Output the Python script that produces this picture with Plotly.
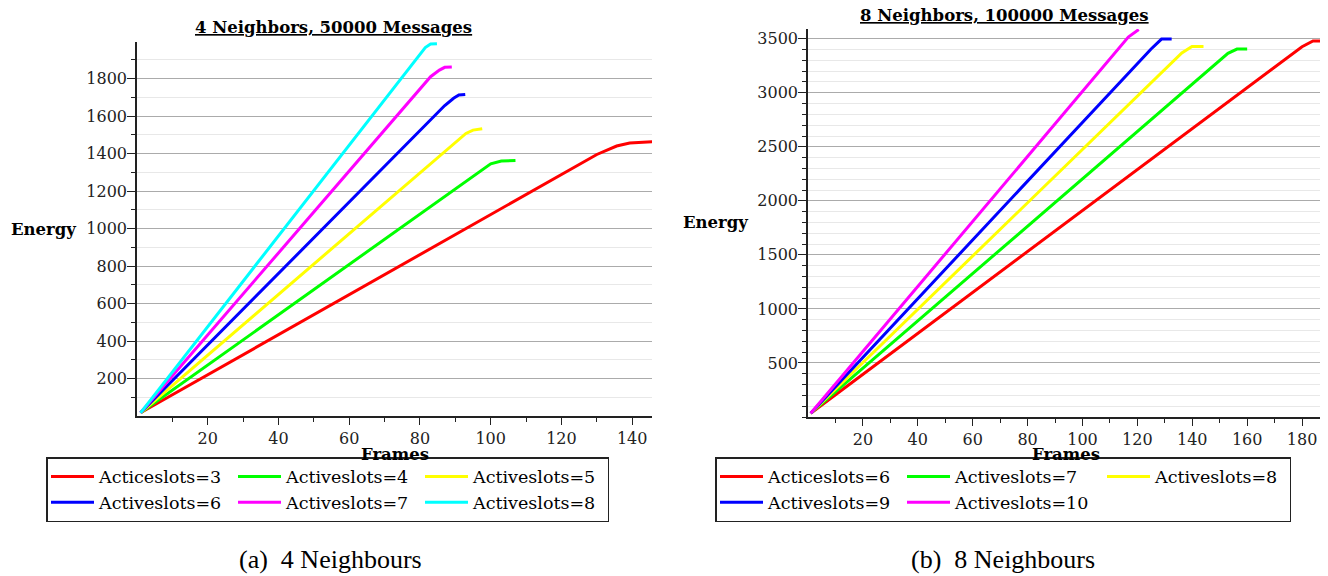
import plotly.graph_objects as go

# The page body has an 8px margin, so the figure is drawn 8px in from the
# top-left corner of the 1328x576 window.
OFF = 8
W, H = 1328 - OFF, 576 - OFF

# ---------------- Data: 4 neighbours, 50000 messages ----------------
n4_names = ["Acticeslots=3", "Activeslots=4", "Activeslots=5",
            "Activeslots=6", "Activeslots=7", "Activeslots=8"]
n4_colors = ["#ff0000", "#00ff00", "#ffff00", "#0000ff", "#ff00ff", "#00ffff"]
n4_groups = ["c1", "c2", "c3", "c1", "c2", "c3"]

n4_s3_x = [1, 130, 135.6, 139.3, 146]
n4_s3_y = [17, 1395, 1440, 1456, 1464]
n4_s4_x = [1, 97, 100, 103, 107]
n4_s4_y = [17, 1309, 1345, 1360, 1363]
n4_s5_x = [1, 90, 93, 95, 97.6]
n4_s5_y = [17, 1462, 1507, 1525, 1532]
n4_s6_x = [1, 87, 89.5, 91, 92.8]
n4_s6_y = [17, 1656, 1695, 1712, 1715]
n4_s7_x = [1, 83, 85.5, 87, 89]
n4_s7_y = [17, 1810, 1845, 1860, 1862]
n4_s8_x = [1, 79.5, 81.5, 83, 84.8]
n4_s8_y = [17, 1920, 1965, 1984, 1986]

n4_xticks = [20, 40, 60, 80, 100, 120, 140]
n4_yticks = [200, 400, 600, 800, 1000, 1200, 1400, 1600, 1800]

# ---------------- Data: 8 neighbours, 100000 messages ----------------
n8_names = ["Acticeslots=6", "Activeslots=7", "Activeslots=8",
            "Activeslots=9", "Activeslots=10"]
n8_colors = ["#ff0000", "#00ff00", "#ffff00", "#0000ff", "#ff00ff"]
n8_groups = ["d1", "d2", "d3", "d1", "d2"]

n8_s6_x = [1, 180, 184, 188]
n8_s6_y = [35, 3426, 3479, 3480]
n8_s7_x = [1, 153, 156.3, 160]
n8_s7_y = [35, 3365, 3404, 3404]
n8_s8_x = [1, 136.2, 139.9, 144.1]
n8_s8_y = [35, 3368, 3428, 3428]
n8_s9_x = [1, 125, 128.8, 132.5]
n8_s9_y = [35, 3405, 3497, 3497]
n8_s10_x = [1, 116.7, 120.5]
n8_s10_y = [35, 3515, 3585]

n8_xticks = [20, 40, 60, 80, 100, 120, 140, 160, 180]
n8_yticks = [500, 1000, 1500, 2000, 2500, 3000, 3500]

n4_x = [n4_s3_x, n4_s4_x, n4_s5_x, n4_s6_x, n4_s7_x, n4_s8_x]
n4_y = [n4_s3_y, n4_s4_y, n4_s5_y, n4_s6_y, n4_s7_y, n4_s8_y]
n8_x = [n8_s6_x, n8_s7_x, n8_s8_x, n8_s9_x, n8_s10_x]
n8_y = [n8_s6_y, n8_s7_y, n8_s8_y, n8_s9_y, n8_s10_y]

SERIF = "DejaVu Serif"
ENTRY_W = 129

fig = go.Figure()

for name, col, grp, xs, ys in zip(n4_names, n4_colors, n4_groups, n4_x, n4_y):
    fig.add_trace(go.Scatter(x=xs, y=ys, mode="lines", name=name,
                             line=dict(color=col, width=3),
                             legendgroup=grp, legend="legend",
                             xaxis="x", yaxis="y", hoverinfo="skip"))

for name, col, grp, xs, ys in zip(n8_names, n8_colors, n8_groups, n8_x, n8_y):
    fig.add_trace(go.Scatter(x=xs, y=ys, mode="lines", name=name,
                             line=dict(color=col, width=3),
                             legendgroup=grp, legend="legend2",
                             legendwidth=(ENTRY_W + 13) if grp == "d2" else ENTRY_W,
                             xaxis="x2", yaxis="y2", hoverinfo="skip"))


def px_x(p):
    return (p - OFF) / W


def px_y(p):
    return 1 - (p - OFF) / H


tickfont = dict(family=SERIF, size=16, color="#222222")

common_x = dict(showline=True, linecolor="#222222", linewidth=1.5,
                ticks="outside", ticklen=7, tickwidth=1, tickcolor="#222222",
                showgrid=False, zeroline=False, tickfont=tickfont,
                tickmode="array")
common_y = dict(showline=True, linecolor="#222222", linewidth=1.5,
                ticks="outside", ticklen=8, tickwidth=1, tickcolor="#222222",
                showgrid=True, gridcolor="#ababab", gridwidth=1.3,
                zeroline=False, tickfont=tickfont, tickmode="array",
                ticklabelstandoff=-3)

legend_common = dict(xanchor="left", yanchor="top",
                     orientation="h", traceorder="grouped",
                     bordercolor="#222222", borderwidth=1.5, bgcolor="white",
                     font=dict(family=SERIF, size=17.5, color="black"),
                     entrywidth=ENTRY_W, itemwidth=43, tracegroupgap=0)

fig.update_layout(
    width=W, height=H,
    margin=dict(l=0, r=0, t=0, b=0),
    paper_bgcolor="white", plot_bgcolor="white",
    font=dict(family=SERIF, size=16, color="black"),
    xaxis=dict(common_x, domain=[px_x(137), px_x(652)], range=[0, 145.6],
               tickvals=n4_xticks, anchor="y",
               minor=dict(tickvals=[10, 30, 50, 70, 90, 110, 130],
                          ticks="outside", ticklen=4, tickcolor="#222222")),
    yaxis=dict(common_y, domain=[px_y(416), px_y(42)], range=[0, 1995],
               tickvals=n4_yticks, anchor="x",
               minor=dict(tickvals=[100, 300, 500, 700, 900, 1100, 1300, 1500, 1700, 1900],
                          ticks="outside", ticklen=4, tickcolor="#222222",
                          showgrid=True, gridcolor="#e8e8e8", gridwidth=1.2)),
    xaxis2=dict(common_x, domain=[px_x(808), px_x(1324)], range=[0, 188],
                tickvals=n8_xticks, anchor="y2",
                minor=dict(tickvals=[10, 30, 50, 70, 90, 110, 130, 150, 170],
                           ticks="outside", ticklen=4, tickcolor="#222222")),
    yaxis2=dict(common_y, domain=[px_y(417), px_y(29)], range=[0, 3590],
                tickvals=n8_yticks, anchor="x2",
                minor=dict(dtick=100, tick0=0, tickmode="linear",
                           ticks="outside", ticklen=4, tickcolor="#222222",
                           showgrid=True, gridcolor="#e8e8e8", gridwidth=1.2)),
    legend=dict(legend_common, x=px_x(46), y=px_y(457)),
    legend2=dict(legend_common, x=px_x(715), y=px_y(457)),
    showlegend=True,
)

annots = [
    # titles
    dict(text="<b><u>4 Neighbors, 50000 Messages</u></b>", x=px_x(333), y=px_y(27),
         font=dict(family=SERIF, size=16.5, color="black")),
    dict(text="<b><u>8 Neighbors, 100000 Messages</u></b>", x=px_x(1004), y=px_y(15),
         font=dict(family=SERIF, size=16.5, color="black")),
    # axis titles
    dict(text="<b>Energy</b>", x=px_x(43), y=px_y(229),
         font=dict(family=SERIF, size=16.5, color="black")),
    dict(text="<b>Energy</b>", x=px_x(715), y=px_y(222),
         font=dict(family=SERIF, size=16.5, color="black")),
    dict(text="<b>Frames</b>", x=px_x(395), y=px_y(454),
         font=dict(family=SERIF, size=16.5, color="black")),
    dict(text="<b>Frames</b>", x=px_x(1066), y=px_y(454),
         font=dict(family=SERIF, size=16.5, color="black")),
    # captions
    dict(text="(a)  4 Neighbours", x=px_x(330), y=px_y(559),
         font=dict(family="Liberation Serif", size=26, color="black")),
    dict(text="(b)  8 Neighbours", x=px_x(1003), y=px_y(559),
         font=dict(family="Liberation Serif", size=26, color="black")),
]
for a in annots:
    fig.add_annotation(xref="paper", yref="paper", showarrow=False,
                       xanchor="center", yanchor="middle", **a)

fig.write_html("out.html")
